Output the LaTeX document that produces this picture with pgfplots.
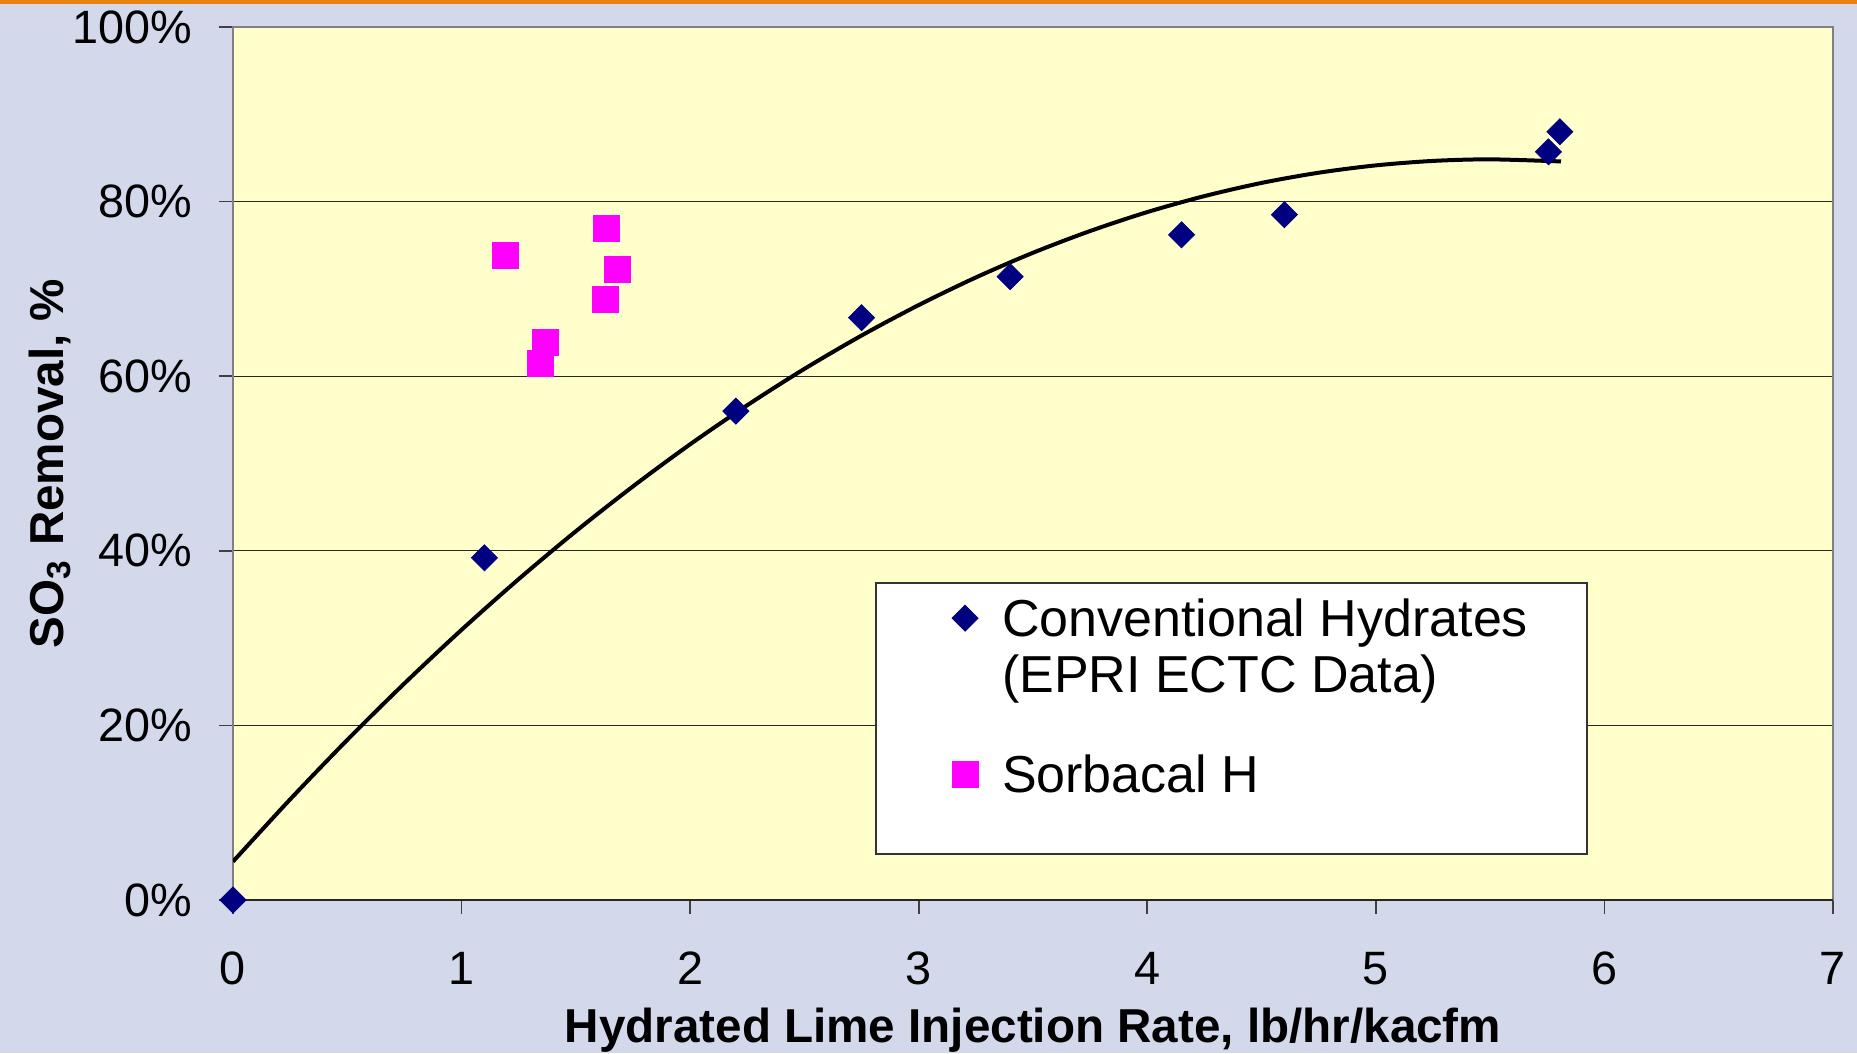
\documentclass[border=0pt]{standalone}
\usepackage{fontspec}
\setmainfont{Liberation Sans}
\usepackage{pgfplots}
\pgfplotsset{compat=1.18}
\definecolor{bg}{HTML}{D3D8EB}
\definecolor{plotbg}{HTML}{FFFFCC}
\definecolor{navy}{HTML}{000080}
\definecolor{mag}{HTML}{FF00FF}
\definecolor{orangebar}{HTML}{E8820C}
\definecolor{framegray}{HTML}{808080}
\pgfplotsset{mylegimg/.style={legend image code/.code={\draw[##1] plot coordinates {(0pt,4.7pt)};}}}
\begin{document}
\begin{tikzpicture}
\fill[bg] (0,0) rectangle (464.25pt,263.25pt);
\fill[orangebar] (0,262.25pt) rectangle (464.25pt,263.25pt);
\begin{axis}[
  at={(58.25pt,38.25pt)}, anchor=south west,
  scale only axis, width=400pt, height=218.25pt,
  xmin=0, xmax=7, ymin=0, ymax=100,
  xtick={0,1,...,7}, ytick={0,20,...,100},
  yticklabel={\pgfmathprintnumber{\tick}\%},
  /pgf/number format/assume math mode=true,
  tick label style={font=\fontsize{11.7}{13}\selectfont, inner sep=0pt},
  yticklabel style={anchor=east, xshift=-6.5pt},
  xticklabel style={anchor=north, yshift=-9.25pt},
  axis background/.style={fill=plotbg},
  axis line style={draw=framegray, line width=0.6pt},
  ymajorgrids, grid style={black!85, line width=0.3pt},
  tick align=outside, major tick length=3.5pt,
  xtick pos=bottom, ytick pos=left,
  tick style={black!75, line width=0.4pt},
  xlabel={Hydrated Lime Injection Rate, lb/hr/kacfm},
  ylabel={SO\textsubscript{3} Removal, \%},
  xlabel style={at={(axis description cs:0.5,0)}, anchor=base, yshift=-35.5pt, inner sep=0pt, font=\fontsize{11.9}{14}\selectfont\bfseries},
  ylabel style={at={(axis description cs:-0.10625,0.5)}, anchor=base, inner sep=0pt, font=\fontsize{11.9}{14}\selectfont\bfseries},
  legend style={at={(rel axis cs:0.4494,0.3471)}, anchor=north west, draw=none, fill=none,
    inner sep=0pt, outer sep=0pt, column sep=6pt, row sep=0pt,
    font=\fontsize{13}{15}\selectfont, nodes={inner sep=0pt, text depth=4pt}, cells={anchor=base west, text depth=4pt}},
]
\addplot[black, line width=1pt, smooth, no markers, forget plot] coordinates {
(0,4.40) (0.25,11.53) (0.5,18.34) (0.75,24.81) (1,30.95) (1.25,36.76) (1.5,42.24)
(1.75,47.38) (2,52.20) (2.25,56.68) (2.5,60.84) (2.75,64.66) (3,68.15) (3.25,71.31)
(3.5,74.14) (3.75,76.63) (4,78.80) (4.25,80.63) (4.5,82.14) (4.75,83.31) (5,84.15)
(5.25,84.66) (5.5,84.84) (5.81,84.60)};
\draw[black!85, line width=0.5pt] (rel axis cs:0,0) -- (rel axis cs:1,0);
\draw[fill=white, draw=black!80, line width=0.4pt] (rel axis cs:0.4019,0.3631) rectangle (rel axis cs:0.84625,0.0527);
\addplot[only marks, mark=square*, mark size=2.3pt, mark options={rotate=45, fill=navy, draw=navy, line width=0.2pt}, mylegimg] coordinates {
(0,0) (1.10,39.2) (2.20,56.0) (2.75,66.7) (3.40,71.4) (4.15,76.2) (4.60,78.5) (5.755,85.7) (5.805,88.0)};
\addlegendentry{\rule{0pt}{10pt}Conventional Hydrates}
\addlegendimage{empty legend}
\addlegendentry{\rule{0pt}{10pt}(EPRI ECTC Data)}
\addplot[only marks, mark=square*, mark size=3.25pt, mark options={fill=mag, draw=mag, line width=0.2pt}, mylegimg] coordinates {
(1.19,73.8) (1.345,61.5) (1.365,63.9) (1.63,68.8) (1.633,76.9) (1.68,72.2)};
\addlegendentry{\rule{0pt}{21pt}Sorbacal H}
\end{axis}
\pgfresetboundingbox
\useasboundingbox (0,0) rectangle (464.25pt,263.25pt);
\end{tikzpicture}
\end{document}
